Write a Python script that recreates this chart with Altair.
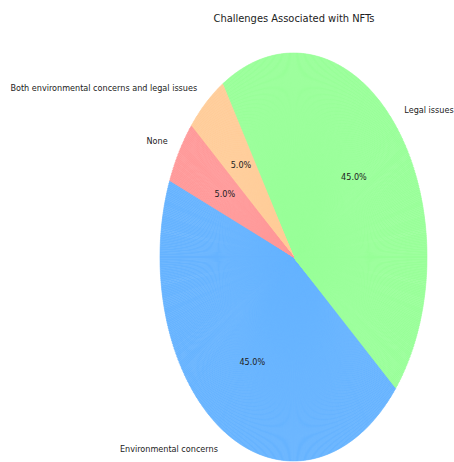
import altair as alt
import pandas as pd

# ---- data ----
categories = ["Environmental concerns", "Legal issues",
              "Both environmental concerns and legal issues", "None"]
values = [45, 45, 5, 5]
colors = ["#66b3ff", "#99ff99", "#ffcc99", "#ff9999"]
title_text = "Challenges Associated with NFTs"

# ---- geometry / style ----
FONT = "Liberation Sans Narrow, DejaVu Sans Condensed, sans-serif"
LBL_SIZE = 9
START = 158          # start angle (deg, counter-clockwise from 3 o'clock)
TOP = 30             # top padding (room for title)
CX, CY = 293.5, 257 - TOP   # pie centre in plot coordinates
RX, RY = 133.5, 204         # elliptical (stretched) radii
S = f"({START}*PI/180)"

df = pd.DataFrame({"category": categories, "value": values,
                   "idx": list(range(len(categories)))})

base = alt.Chart(df).transform_window(
    cum="sum(value)", sort=[alt.SortField("idx")], frame=[None, 0]
).transform_joinaggregate(
    total="sum(value)"
).transform_calculate(
    start="(datum.cum - datum.value) / datum.total"
).transform_calculate(
    frac="datum.value / datum.total"
)

color = alt.Color("category:N",
                  scale=alt.Scale(domain=categories, range=colors),
                  legend=None)

# thin arc pieces that together form the stretched (elliptical) wedges
arcs = base.transform_calculate(
    n="ceil(datum.frac * 720)"
).transform_calculate(
    steps="sequence(0, datum.n)"
).transform_flatten(
    ["steps"], as_=["k"]
).transform_calculate(
    p0=f"{S} + 2*PI*(datum.start + datum.frac*datum.k/datum.n)"
).transform_calculate(
    p1=f"{S} + 2*PI*(datum.start + datum.frac*(datum.k+1)/datum.n)"
).transform_calculate(
    pm="(datum.p0 + datum.p1) / 2"
).transform_calculate(
    a0=f"atan2({RY}*sin(datum.p0), {RX}*cos(datum.p0))"
).transform_calculate(
    a1r=f"atan2({RY}*sin(datum.p1), {RX}*cos(datum.p1))"
).transform_calculate(
    a1="datum.a0 + atan2(sin(datum.a1r - datum.a0), cos(datum.a1r - datum.a0))"
).transform_calculate(
    r=f"sqrt(pow({RX}*cos(datum.pm), 2) + pow({RY}*sin(datum.pm), 2))"
).transform_calculate(
    t0="PI/2 - datum.a0"
).transform_calculate(
    t1="PI/2 - datum.a1"
).mark_arc(strokeWidth=0.6).encode(
    theta=alt.Theta("t0:Q", scale=None, stack=None),
    theta2="t1:Q",
    radius=alt.Radius("r:Q", scale=None),
    color=color,
    stroke=alt.Stroke("category:N",
                      scale=alt.Scale(domain=categories, range=colors),
                      legend=None),
    x=alt.value(CX),
    y=alt.value(CY),
)

lbl = base.transform_calculate(
    pm=f"{S} + 2*PI*(datum.start + datum.frac/2)"
).transform_calculate(
    lx=f"{CX} + 1.1*{RX}*cos(datum.pm)"
).transform_calculate(
    ly=f"{CY} - 1.1*{RY}*sin(datum.pm)"
).transform_calculate(
    px=f"{CX} + 0.6*{RX}*cos(datum.pm)"
).transform_calculate(
    py=f"{CY} - 0.6*{RY}*sin(datum.pm)"
).transform_calculate(
    pct="format(100*datum.frac, '.1f') + '%'"
)

lx = alt.X("lx:Q", scale=None, axis=None)
ly = alt.Y("ly:Q", scale=None, axis=None)

left_lbl = lbl.transform_filter("cos(datum.pm) < 0").mark_text(
    align="right", baseline="middle", font=FONT, fontSize=LBL_SIZE, color="#222222"
).encode(x=lx, y=ly, text="category:N")

right_lbl = lbl.transform_filter("cos(datum.pm) >= 0").mark_text(
    align="left", baseline="middle", font=FONT, fontSize=LBL_SIZE, color="#222222"
).encode(x=lx, y=ly, text="category:N")

pct_lbl = lbl.mark_text(
    align="center", baseline="middle", font=FONT, fontSize=LBL_SIZE, color="#222222"
).encode(
    x=alt.X("px:Q", scale=None, axis=None),
    y=alt.Y("py:Q", scale=None, axis=None),
    text="pct:N",
)

chart = alt.layer(arcs, left_lbl, right_lbl, pct_lbl).properties(
    width=454,
    height=462 - TOP,
    padding={"left": 0, "top": TOP, "right": 0, "bottom": 0},
    autosize=alt.AutoSizeParams(type="none"),
    background="white",
    title=alt.TitleParams(
        title_text, font=FONT, fontSize=11, fontWeight="normal",
        color="#222222", anchor="middle", dx=294 - 227, offset=6,
    ),
).configure_view(stroke=None)

chart.save("out.html", embed_options={"renderer": "svg", "actions": False})
